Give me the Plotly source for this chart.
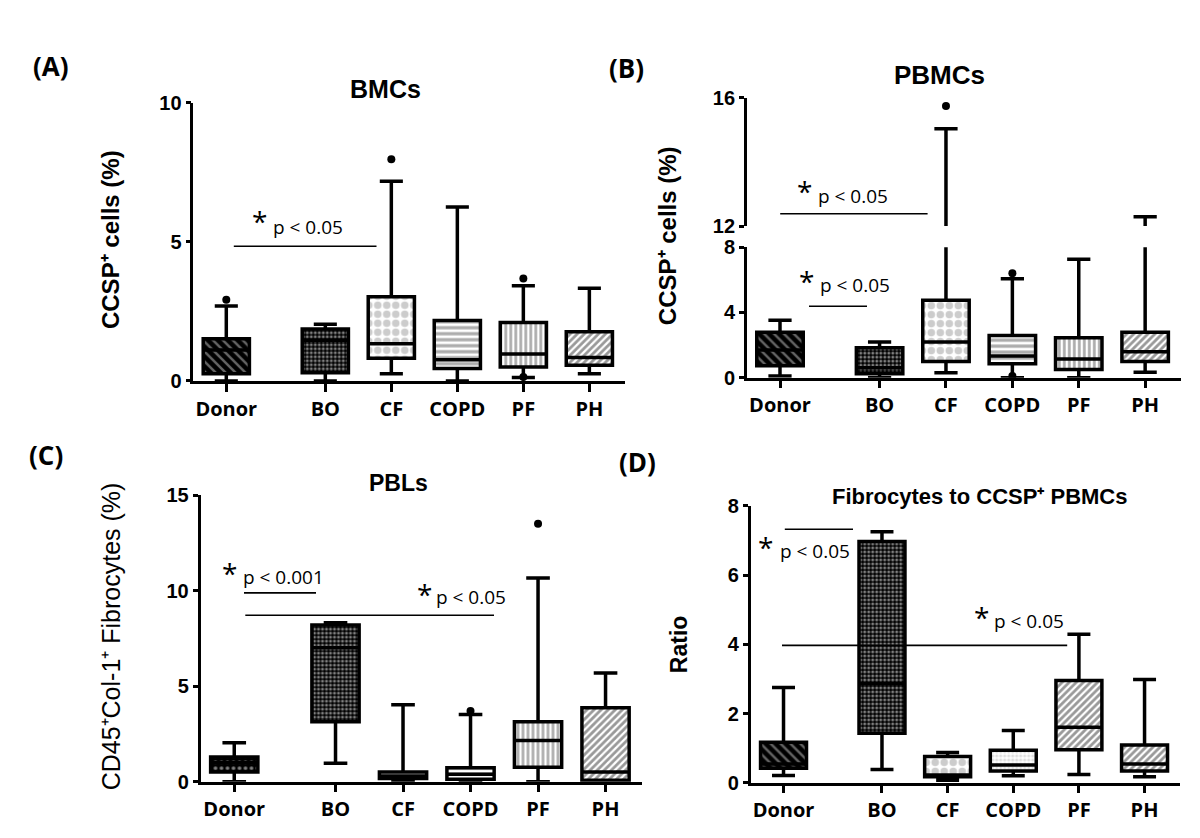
import plotly.graph_objects as go

W, H = 1200, 838

cats = ["Donor", "BO", "CF", "COPD", "PF", "PH"]

# (A) BMCs - CCSP+ cells (%)
bmc_low = [0.0, 0.0, 0.26, 0.0, 0.12, 0.26]
bmc_q1 = [0.26, 0.29, 0.82, 0.45, 0.50, 0.56]
bmc_med = [1.11, 1.46, 1.34, 0.76, 0.97, 0.84]
bmc_q3 = [1.52, 1.87, 3.03, 2.17, 2.10, 1.77]
bmc_high = [2.69, 2.04, 7.18, 6.25, 3.42, 3.33]
bmc_out_cat = ["Donor", "CF", "PF", "PF"]
bmc_out_val = [2.92, 7.97, 3.68, 0.14]

# (B) PBMCs - CCSP+ cells (%)
pbmc_low = [0.10, 0.0, 0.30, 0.0, 0.0, 0.33]
pbmc_q1 = [0.73, 0.24, 0.99, 0.85, 0.50, 0.99]
pbmc_med = [1.69, 0.60, 2.19, 1.33, 1.15, 1.59]
pbmc_q3 = [2.78, 1.83, 4.75, 2.58, 2.45, 2.78]
pbmc_high = [3.52, 2.19, 15.04, 6.07, 7.26, 12.29]
pbmc_out_cat = ["CF", "COPD", "COPD"]
pbmc_out_val = [15.75, 6.40, 0.10]

# (C) PBLs - CD45+Col-1+ fibrocytes (%)
pbl_low = [0.0, 0.97, 0.0, 0.0, 0.0, 0.0]
pbl_q1 = [0.51, 3.14, 0.17, 0.13, 0.76, 0.08]
pbl_med = [1.00, 7.01, 0.30, 0.39, 2.16, 0.51]
pbl_q3 = [1.30, 8.20, 0.51, 0.73, 3.14, 3.87]
pbl_high = [2.04, 8.32, 4.03, 3.52, 10.67, 5.69]
pbl_out_cat = ["COPD", "PF"]
pbl_out_val = [3.70, 13.50]

# (D) Fibrocytes to CCSP+ PBMCs - ratio
ratio_low = [0.21, 0.38, 0.07, 0.20, 0.24, 0.17]
ratio_q1 = [0.42, 1.43, 0.17, 0.34, 0.95, 0.34]
ratio_med = [0.54, 2.86, 0.22, 0.51, 1.60, 0.54]
ratio_q3 = [1.17, 6.97, 0.76, 0.94, 2.95, 1.09]
ratio_high = [2.75, 7.25, 0.87, 1.51, 4.29, 2.98]
ratio_out_cat = []
ratio_out_val = []

# category positions (gap after Donor as in the original)
xpos = [0, 1.5, 2.5, 3.5, 4.5, 5.5]
cat_x = dict(zip(cats, xpos))


def px(x):
    return x / W


def py(y):
    return 1 - y / H


# fill patterns per panel
pat_ab = dict(shape=["\\", ".", ".", "-", "|", "/"],
              fgcolor=["#c8c8c8", "white", "#9a9a9a", "#5a5a5a", "#5a5a5a", "#333333"],
              bgcolor=["black", "black", "white", "white", "white", "white"],
              size=[7, 4, 9, 6, 5, 5],
              solidity=[0.35, 0.45, 0.55, 0.55, 0.55, 0.55])
pat_c = dict(shape=[".", ".", "-", "-", "|", "/"],
             fgcolor=["white", "white", "#b8b8b8", "#5a5a5a", "#5a5a5a", "#333333"],
             bgcolor=["black", "black", "white", "white", "white", "white"],
             size=[6, 4, 6, 6, 5, 5],
             solidity=[0.3, 0.45, 0.4, 0.55, 0.55, 0.55])
pat_d = dict(shape=["\\", ".", ".", ".", "/", "/"],
             fgcolor=["#c8c8c8", "white", "#9a9a9a", "#bcbcbc", "#333333", "#333333"],
             bgcolor=["black", "black", "white", "white", "white", "white"],
             size=[7, 4, 9, 4, 5, 5],
             solidity=[0.35, 0.45, 0.55, 0.5, 0.55, 0.55])

fig = go.Figure()


def add_boxes(xa, ya, low, q1, med, q3, high):
    fig.add_trace(go.Box(
        x=xpos, q1=q1, median=med, q3=q3, lowerfence=low, upperfence=high,
        width=0.7, whiskerwidth=0.5, fillcolor="rgba(0,0,0,0)",
        line=dict(color="black", width=3.5), xaxis=xa, yaxis=ya, hoverinfo="skip"))


def add_outliers(xa, ya, out_cat, out_val):
    if out_cat:
        fig.add_trace(go.Scatter(
            x=[cat_x[c] for c in out_cat], y=out_val, mode="markers",
            marker=dict(color="black", size=8), xaxis=xa, yaxis=ya, hoverinfo="skip"))


def add_panel(xa, ya, low, q1, med, q3, high, pat, out_cat, out_val):
    # patterned fill of the box, drawn under the box outline
    fig.add_trace(go.Bar(
        x=xpos, y=[b - a for a, b in zip(q1, q3)], base=q1, width=0.7,
        marker=dict(color="white", line=dict(width=0), pattern=pat),
        xaxis=xa, yaxis=ya, hoverinfo="skip"))
    add_boxes(xa, ya, low, q1, med, q3, high)
    add_outliers(xa, ya, out_cat, out_val)


add_panel("x", "y", bmc_low, bmc_q1, bmc_med, bmc_q3, bmc_high, pat_ab, bmc_out_cat, bmc_out_val)
add_panel("x2", "y2", pbmc_low, pbmc_q1, pbmc_med, pbmc_q3, pbmc_high, pat_ab, pbmc_out_cat, pbmc_out_val)
# upper part of the broken axis: same boxes, clipped to 12-16
add_boxes("x2", "y3", pbmc_low, pbmc_q1, pbmc_med, pbmc_q3, pbmc_high)
add_outliers("x2", "y3", pbmc_out_cat, pbmc_out_val)
add_panel("x3", "y4", pbl_low, pbl_q1, pbl_med, pbl_q3, pbl_high, pat_c, pbl_out_cat, pbl_out_val)
add_panel("x4", "y5", ratio_low, ratio_q1, ratio_med, ratio_q3, ratio_high, pat_d, ratio_out_cat, ratio_out_val)

xstyle = dict(range=[-0.5, 6.04], tickvals=xpos, ticktext=cats, showline=True,
              linecolor="black", linewidth=2.5, ticks="outside", ticklen=8, tickwidth=2.5,
              tickcolor="black", showgrid=False, zeroline=False, fixedrange=True,
              tickfont=dict(family="Open Sans", size=20, color="black", weight="bold"))
ystyle = dict(showline=True, linecolor="black", linewidth=2.5, ticks="outside", ticklen=5,
              tickwidth=2.5, tickcolor="black", showgrid=False, zeroline=False,
              tickfont=dict(family="Liberation Sans", size=20, color="black", weight="bold"))

fig.update_layout(
    width=W, height=H, margin=dict(l=0, r=0, t=0, b=0),
    plot_bgcolor="white", paper_bgcolor="white", showlegend=False,
    xaxis=dict(xstyle, domain=[px(185.3), px(617)], anchor="y"),
    yaxis=dict(ystyle, domain=[py(371.7), py(86)], range=[0, 10], tickvals=[0, 5, 10], anchor="x"),
    xaxis2=dict(xstyle, domain=[px(738.8), px(1173)], anchor="y2"),
    yaxis2=dict(ystyle, domain=[py(368.3), py(234.3)], range=[0, 8], tickvals=[0, 4, 8], anchor="x2"),
    yaxis3=dict(ystyle, domain=[py(212.7), py(81)], range=[12, 16], tickvals=[12, 16], anchor="x2"),
    xaxis3=dict(xstyle, domain=[px(192.5), px(634)], anchor="y4"),
    yaxis4=dict(ystyle, domain=[py(783.3), py(489)], range=[0, 15], tickvals=[0, 5, 10, 15], anchor="x3"),
    xaxis4=dict(xstyle, domain=[px(742.7), px(1172)], anchor="y5"),
    yaxis5=dict(ystyle, domain=[py(784.3), py(500)], range=[0, 8], tickvals=[0, 2, 4, 6, 8], anchor="x4"),
)

ann = []


def text(x, y, s, size, family="Liberation Sans", bold=False, angle=0):
    ann.append(dict(x=px(x), y=py(y), xref="paper", yref="paper", text=s, showarrow=False,
                    xanchor="center", yanchor="middle", textangle=angle,
                    font=dict(family=family, size=size, color="black",
                              weight="bold" if bold else "normal")))


# panel letters
for lab, x, y in [("(A)", 43, 48), ("(B)", 618, 50), ("(C)", 38, 448), ("(D)", 629, 455)]:
    text(x, y, lab, 26, family="Open Sans", bold=True)

# panel titles
text(377, 72, "BMCs", 25, bold=True)
text(932, 57, "PBMCs", 26, bold=True)
text(390, 476, "PBLs", 23, bold=True)
text(972, 490, "Fibrocytes to CCSP⁺ PBMCs", 22, bold=True)

# y-axis titles
text(102, 227, "CCSP⁺ cells (%)", 24, bold=True, angle=-90)
text(659, 223, "CCSP⁺ cells (%)", 24, bold=True, angle=-90)
text(103, 634, "CD45⁺Col-1⁺ Fibrocytes (%)", 25, angle=-90)
text(671, 642, "Ratio", 23, bold=True, angle=-90)

# significance marks: line x0, x1, y ; star x, y ; label x, y, text
sig = [
    (225.8, 368.5, 233.3, 251, 203, 299.5, 213.3, "p < 0.05"),
    (772.2, 919.6, 200.0, 796, 173, 845, 181.7, "p < 0.05"),
    (801.0, 859.0, 295.0, 798, 265, 846.8, 273.3, "p < 0.05"),
    (236.0, 308.0, 589.3, 221, 565, 275.5, 572.7, "p < 0.001"),
    (237.3, 486.0, 612.3, 416, 586, 463, 593.3, "p < 0.05"),
    (776.8, 845.0, 524.0, 757, 538, 806.7, 546, "p < 0.05"),
    (774.0, 1059.2, 643.3, 973, 610, 1021, 618.3, "p < 0.05"),
]
shapes = []
for x0, x1, yl, sx, sy, tx, ty, s in sig:
    shapes.append(dict(type="line", xref="paper", yref="paper", x0=px(x0), x1=px(x1),
                       y0=py(yl), y1=py(yl), line=dict(color="black", width=1.6)))
    text(sx, sy + 4, "*", 28, family="Open Sans")
    text(tx, ty, s, 19, family="Open Sans")

fig.update_layout(annotations=ann, shapes=shapes)

fig.write_html("out.html")
